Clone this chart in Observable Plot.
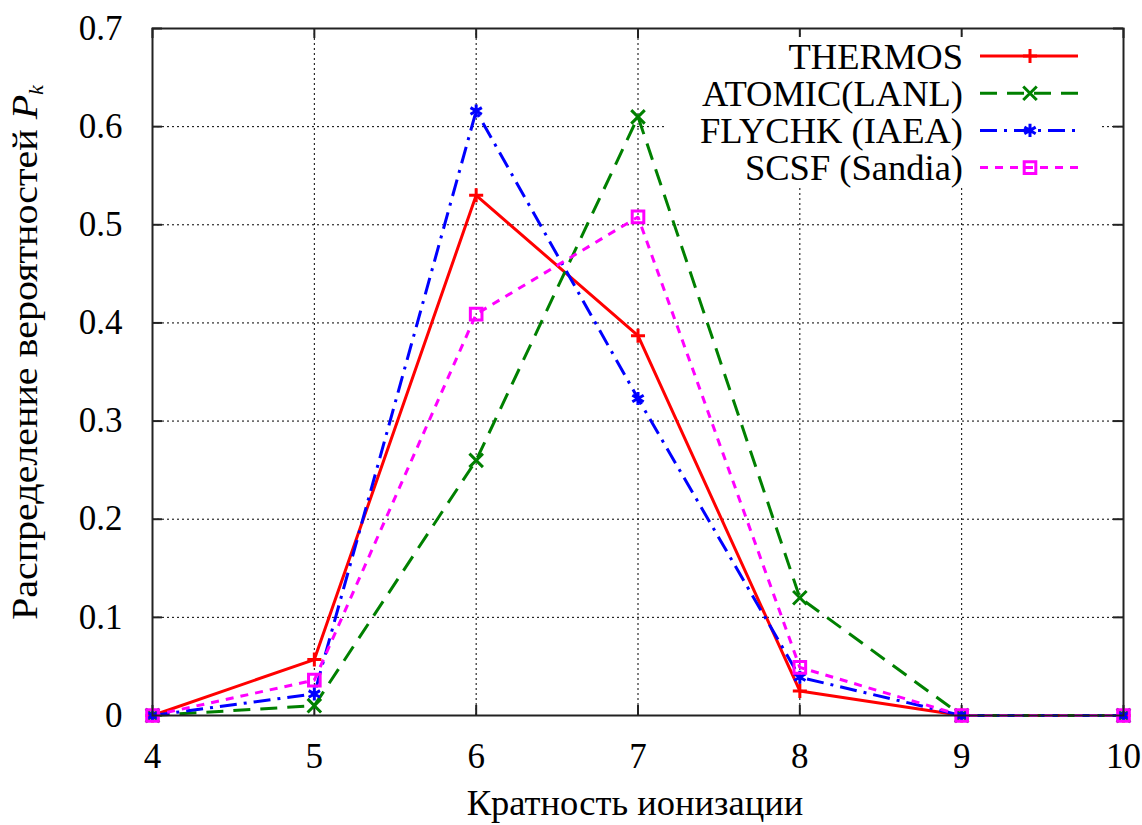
<!DOCTYPE html>
<html>
<head>
<meta charset="utf-8">
<script src="https://cdn.jsdelivr.net/npm/d3@7"></script>
<script src="https://cdn.jsdelivr.net/npm/@observablehq/plot@0.6"></script>
</head>
<body style="margin:0;background:#fff">
<div id="chart"></div>
<script>
// ---- data ----
const charge = [4, 5, 6, 7, 8, 9, 10];
const thermos = [0, 0.057, 0.530, 0.387, 0.025, 0, 0];
const atomic = [0, 0.010, 0.260, 0.610, 0.120, 0, 0];
const flychk = [0, 0.022, 0.616, 0.323, 0.039, 0, 0];
const scsf = [0, 0.036, 0.409, 0.508, 0.049, 0, 0];
const seriesNames = ["THERMOS", "ATOMIC(LANL)", "FLYCHK (IAEA)", "SCSF (Sandia)"];
const xTicks = [4, 5, 6, 7, 8, 9, 10];
const yTicks = [0, 0.1, 0.2, 0.3, 0.4, 0.5, 0.6, 0.7];
const xLabel = "Кратность ионизации";
const yLabel = "Распределение вероятностей ";

// ---- styles ----
const styles = [
  {color: "#ff0000", dash: null, symbol: "plus", r: 4.6},
  {color: "#008000", dash: "17,10", symbol: "times", r: 6.2},
  {color: "#0000ff", dash: "17,7,3,7", symbol: "asterisk", r: 6.2},
  {color: "#ff00ff", dash: "8,7", symbol: "square2", r: 7.4}
];
const values = [thermos, atomic, flychk, scsf];
const tables = values.map((vals, i) => charge.map((c, j) => ({x: c, y: vals[j], s: seriesNames[i]})));

const font = '"Liberation Serif", serif';
const W = 1142, H = 825;
const tickLenX = 10 / 971 * 6;
const tickLenY = 10 / 687 * 0.7;

const marks = [
  Plot.gridX(xTicks, {stroke: "#000", strokeOpacity: 1, strokeWidth: 1, strokeDasharray: "2,3"}),
  Plot.gridY(yTicks, {stroke: "#000", strokeOpacity: 1, strokeWidth: 1, strokeDasharray: "2,3"}),
  Plot.ruleX(xTicks, {x: d => d, y1: 0, y2: tickLenY, stroke: "#222", strokeWidth: 2}),
  Plot.ruleX(xTicks, {x: d => d, y1: 0.7 - tickLenY, y2: 0.7, stroke: "#222", strokeWidth: 2}),
  Plot.ruleY(yTicks, {y: d => d, x1: 4, x2: 4 + tickLenX, stroke: "#222", strokeWidth: 2}),
  Plot.ruleY(yTicks, {y: d => d, x1: 10 - tickLenX, x2: 10, stroke: "#222", strokeWidth: 2}),
  Plot.axisX(xTicks, {tickSize: 0, tickPadding: 28, label: null, tickFormat: d => String(d), fontSize: 35}),
  Plot.axisY(yTicks, {tickSize: 0, tickPadding: 30, label: null, tickFormat: d => String(d), fontSize: 35}),
];
tables.forEach((t, i) => {
  const s = styles[i];
  marks.push(Plot.line(t, {x: "x", y: "y", stroke: s.color, strokeWidth: 3, strokeDasharray: s.dash, strokeLinejoin: "miter", strokeLinecap: "butt"}));
});
tables.forEach((t, i) => {
  const s = styles[i];
  marks.push(Plot.dot(t, {x: "x", y: "y", symbol: () => s.symbol, r: s.r, stroke: s.color, strokeWidth: 3, fill: "none"}));
});
marks.push(Plot.frame({stroke: "#222", strokeWidth: 2}));

const plot = Plot.plot({
  width: W, height: H,
  marginTop: 28, marginRight: 19, marginBottom: 110, marginLeft: 152,
  x: {domain: [4, 10]},
  y: {domain: [0, 0.7]},
  style: {fontFamily: font, fontSize: "35px", color: "#000", background: "#fff"},
  marks
});
document.getElementById("chart").appendChild(plot);

const svg = d3.select(plot);
svg.append("text")
  .attr("x", 635).attr("y", 815)
  .attr("text-anchor", "middle")
  .style("font-size", "36.5px")
  .attr("fill", "#000")
  .text(xLabel);
const yl = svg.append("text")
  .attr("transform", "translate(37,620) rotate(-90)")
  .attr("text-anchor", "start")
  .attr("textLength", 535).attr("lengthAdjust", "spacingAndGlyphs")
  .style("font-size", "36px")
  .attr("fill", "#000");
yl.append("tspan").text(yLabel);
yl.append("tspan").attr("font-style", "italic").text("P");
yl.append("tspan").attr("font-style", "italic").style("font-size", "20px").attr("dy", 6).text("k");

// legend
const lg = svg.append("g");
lg.append("rect").attr("x", 667).attr("y", 37).attr("width", 433).attr("height", 150).attr("fill", "#fff");
const symMap = {plus: d3.symbolPlus, times: d3.symbolTimes, asterisk: d3.symbolAsterisk, square2: d3.symbolSquare2};
seriesNames.forEach((name, i) => {
  const s = styles[i];
  const cy = 56 + i * 37.2;
  lg.append("text").attr("x", 963).attr("y", cy).attr("dy", "0.35em")
    .attr("text-anchor", "end")
    .style("font-size", "36.5px").attr("fill", "#000")
    .text(name);
  lg.append("line").attr("x1", 980).attr("x2", 1078).attr("y1", cy).attr("y2", cy)
    .attr("stroke", s.color).attr("stroke-width", 3)
    .attr("stroke-dasharray", s.dash);
  lg.append("path")
    .attr("transform", `translate(1030,${cy})`)
    .attr("d", d3.symbol().type(symMap[s.symbol]).size(Math.PI * s.r * s.r)())
    .attr("fill", "none").attr("stroke", s.color).attr("stroke-width", 3);
});
svg.selectAll("text").style("font-family", font);
</script>
</body>
</html>
